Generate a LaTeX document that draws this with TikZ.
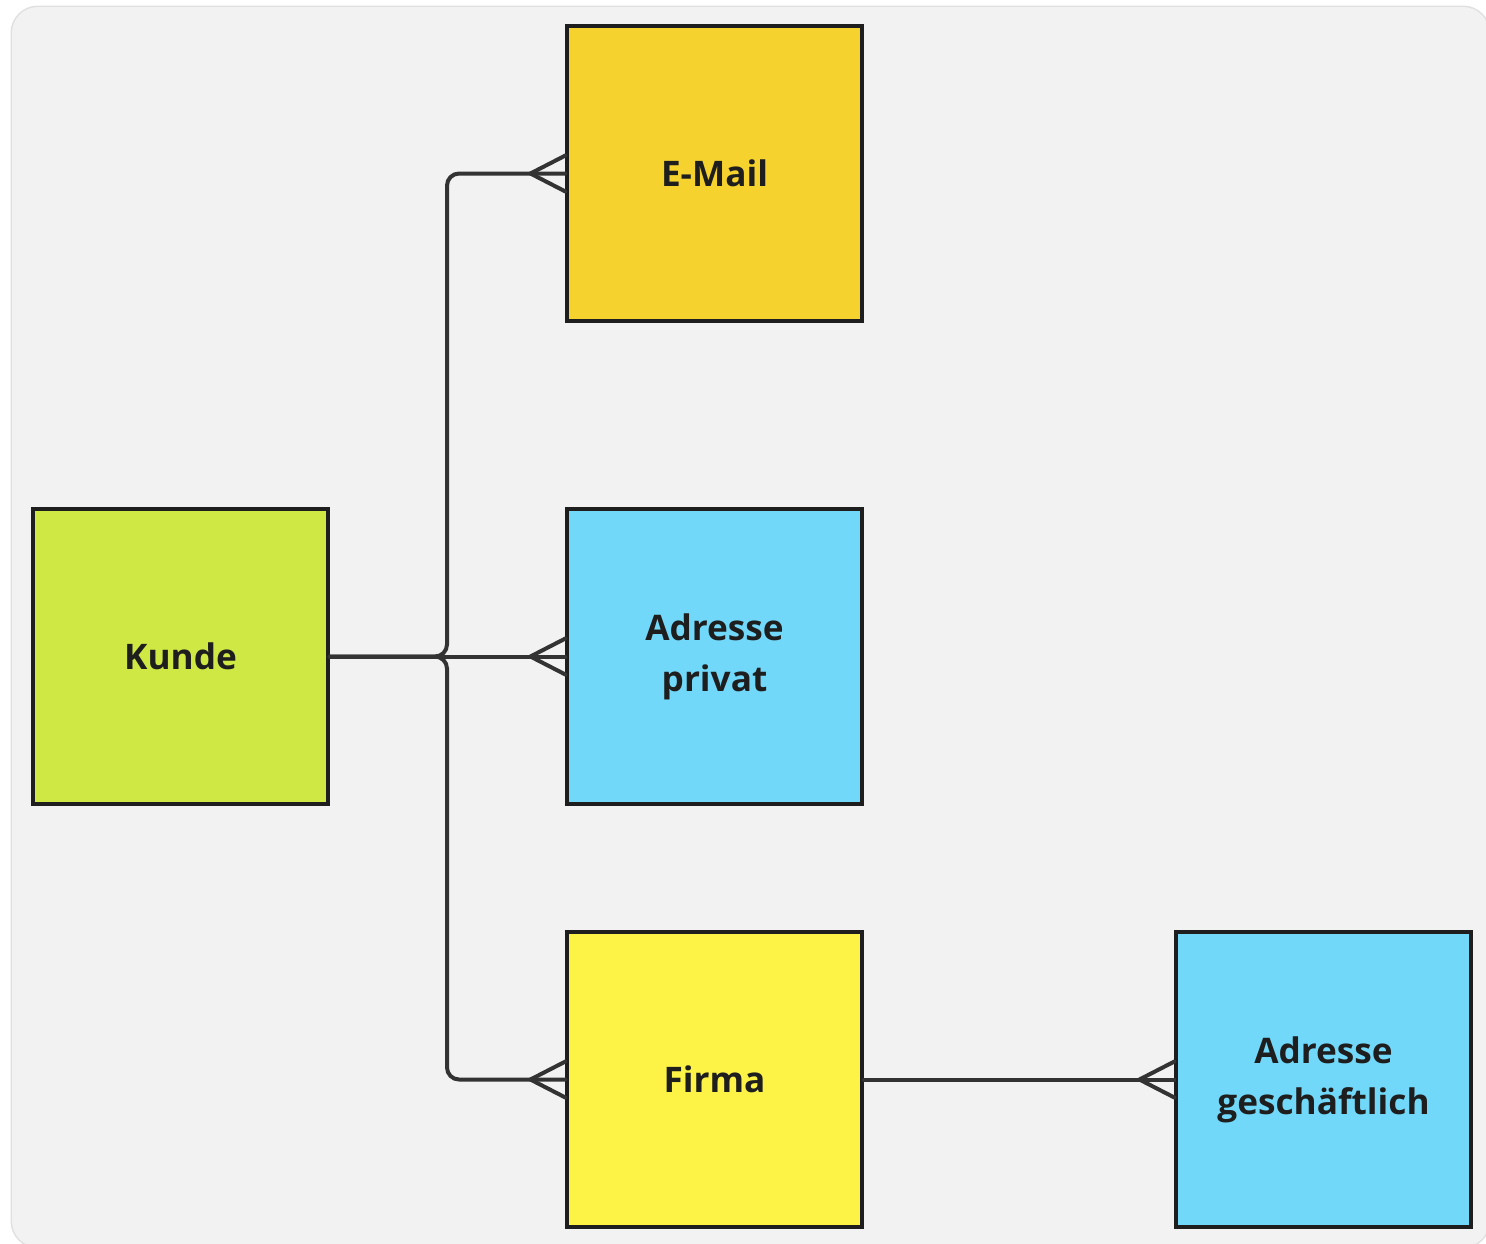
\documentclass[tikz,border=0pt]{standalone}
\usepackage{fontspec}
\setmainfont{Open Sans}
\definecolor{bgc}{HTML}{F2F2F2}
\definecolor{emailc}{HTML}{F5D22E}
\definecolor{kundec}{HTML}{CFE843}
\definecolor{adrc}{HTML}{72D8F9}
\definecolor{firmac}{HTML}{FDF246}
\definecolor{linec}{HTML}{333333}
\definecolor{borderc}{HTML}{1E1E1E}
\tikzset{
  entity/.style={draw=borderc, line width=1.6pt, minimum width=147.5pt, minimum height=147.5pt,
    inner sep=0pt, font=\bfseries\fontsize{17.6}{25.5}\selectfont, text=borderc, align=center},
  conn/.style={draw=linec, line width=2pt, line cap=round, line join=round},
}
\begin{document}
\begin{tikzpicture}[x=0.5pt,y=-0.5pt]
\useasboundingbox (0,0) rectangle (1486,1243);
\fill[white] (0,0) rectangle (1486,1243);
\begin{scope}
\clip (0,0) rectangle (1486,1243);
\draw[draw=black!12, line width=1.5pt, rounded corners=13pt] (12,7) rectangle (1489,1247);
\fill[bgc, rounded corners=13pt] (12,7) rectangle (1489,1247);
\end{scope}
\node[entity, fill=emailc] (email) at (714.5,173.5) {E-Mail};
\node[entity, fill=kundec] (kunde) at (180.5,656.5) {Kunde};
\node[entity, fill=adrc] (privat) at (714.5,656.5) {Adresse\\privat};
\node[entity, fill=firmac] (firma) at (714.5,1079.5) {Firma};
\node[entity, fill=adrc] (gesch) at (1323.5,1079.5) {Adresse\\geschäftlich};
\draw[conn, rounded corners=6pt] (kunde.east) -| (447,173.5) -- (email.west);
\draw[conn, rounded corners=6pt] (kunde.east) -| (447,1079.5) -- (firma.west);
\draw[conn] (kunde.east) -- (privat.west);
\draw[conn] (firma.east) -- (gesch.west);
\foreach \n in {email,privat,firma,gesch}{
  \draw[conn, shift={(\n.west)}] (0,-18) -- (-35,0) -- (0,18);
}
\end{tikzpicture}
\end{document}
